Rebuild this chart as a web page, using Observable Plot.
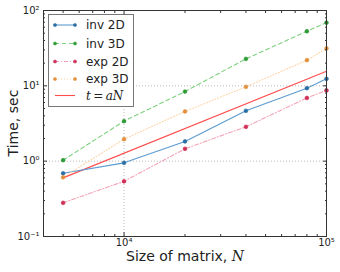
<!DOCTYPE html>
<html><head><meta charset="utf-8">
<script src="https://cdn.jsdelivr.net/npm/d3@7"></script>
<script src="https://cdn.jsdelivr.net/npm/@observablehq/plot@0.6"></script>
<style>body{margin:0;background:#fff}</style>
</head><body><div id="chart"></div>
<script>
const N = [5000, 10000, 20000, 40000, 80000, 100000];
const inv2D = [0.69, 0.95, 1.83, 4.66, 9.3, 12.4];
const inv3D = [1.03, 3.4, 8.4, 22.8, 53, 69];
const exp2D = [0.28, 0.54, 1.46, 2.86, 6.9, 8.7];
const exp3D = [0.61, 1.96, 4.57, 9.7, 21.9, 31.4];
const fitN = [5000, 100000];
const fitT = [0.6, 15.6];
const seriesNames = ["inv 2D", "inv 3D", "exp 2D", "exp 3D"];
const lineColors = ["#5b9bd0", "#7fd07f", "#f4a3b6", "#ffd3a6"];
const markColors = ["#2b6ea3", "#2e9a35", "#cf2e55", "#e3903c"];
const dashes = [null, "4,3", "4,2,1,2", "1,2"];
const fitColor = "#ff4d4d";
const xMajor = [1e4, 1e5];
const yMajor = [0.1, 1, 10, 100];
const xMinor = [5000, 6000, 7000, 8000, 9000, 20000, 30000, 40000, 50000, 60000, 70000, 80000, 90000];
const yMinor = [0.2,0.3,0.4,0.5,0.6,0.7,0.8,0.9,2,3,4,5,6,7,8,9,20,30,40,50,60,70,80,90];

const values = [inv2D, inv3D, exp2D, exp3D];
const rows = [];
values.forEach((arr, s) => arr.forEach((t, i) => rows.push({series: seriesNames[s], s, N: N[i], t})));
const fitRows = fitN.map((n, i) => ({N: n, t: fitT[i]}));

const sup = {"-": "\u207B", "0": "\u2070", "1": "\u00B9", "2": "\u00B2", "4": "\u2074", "5": "\u2075"};
const fmt = d => "10" + String(Math.round(Math.log10(d))).split("").map(c => sup[c]).join("");

const empty = () => "";
const marks = [
  Plot.gridY([1, 10], {stroke: "#bbb", strokeOpacity: 1, strokeDasharray: "1,2"}),
  Plot.gridX([1e4], {stroke: "#bbb", strokeOpacity: 1, strokeDasharray: "1,2"}),
  Plot.line(fitRows, {x: "N", y: "t", stroke: fitColor, strokeWidth: 1.1})
];
seriesNames.forEach((name, s) => {
  const data = rows.filter(r => r.s === s);
  marks.push(Plot.line(data, {x: "N", y: "t", stroke: lineColors[s], strokeWidth: 1.1, strokeDasharray: dashes[s]}));
});
seriesNames.forEach((name, s) => {
  const data = rows.filter(r => r.s === s);
  marks.push(Plot.dot(data, {x: "N", y: "t", r: 1.9, fill: markColors[s], stroke: markColors[s], strokeWidth: 0.6}));
});
for (const anchor of ["left", "right"]) {
  marks.push(Plot.axisY(yMajor, {anchor, tickSize: -4, tickFormat: empty, label: null, stroke: "#333"}));
  marks.push(Plot.axisY(yMinor, {anchor, tickSize: -2, tickFormat: empty, label: null, stroke: "#333"}));
}
for (const anchor of ["bottom", "top"]) {
  marks.push(Plot.axisX(xMajor, {anchor, tickSize: -4, tickFormat: empty, label: null, stroke: "#333"}));
  marks.push(Plot.axisX(xMinor, {anchor, tickSize: -2, tickFormat: empty, label: null, stroke: "#333"}));
}
marks.push(Plot.text(yMajor, {y: d => d, text: fmt, frameAnchor: "left", textAnchor: "end", dx: -4, fontSize: 10, fill: "#222"}));
marks.push(Plot.text(xMajor, {x: d => d, text: fmt, frameAnchor: "bottom", dy: 9, fontSize: 10, fill: "#222"}));
marks.push(Plot.frame({stroke: "#333", strokeWidth: 1}));

const chart = Plot.plot({
  width: 340, height: 272,
  marginLeft: 43, marginRight: 14, marginTop: 10, marginBottom: 36,
  style: {fontFamily: "DejaVu Sans", background: "#fff", overflow: "visible"},
  x: {type: "log", domain: [4000, 1e5], axis: null},
  y: {type: "log", domain: [0.1, 100], axis: null},
  marks
});
document.getElementById("chart").appendChild(chart);

const svg = d3.select(chart);
// axis titles
const xt = svg.append("text").attr("x", 185).attr("y", 261).attr("text-anchor", "middle")
  .attr("font-family", "DejaVu Sans").attr("font-size", 14).attr("fill", "#222");
xt.append("tspan").text("Size of matrix, ");
xt.append("tspan").attr("font-family", "DejaVu Serif").attr("font-style", "italic").text("N");
svg.append("text").attr("transform", "translate(18,123) rotate(-90)").attr("text-anchor", "middle")
  .attr("font-family", "DejaVu Sans").attr("font-size", 14).attr("fill", "#222").text("Time, sec");

// legend
const lg = svg.append("g").attr("transform", "translate(48,14)");
lg.append("rect").attr("x", 0.5).attr("y", 0.5).attr("width", 85).attr("height", 92)
  .attr("fill", "#fff").attr("stroke", "#777").attr("stroke-width", 1);
const rowY = [11, 29.5, 47.5, 65, 81.5];
seriesNames.forEach((name, s) => {
  const g = lg.append("g").attr("transform", `translate(0,${rowY[s]})`);
  g.append("line").attr("x1", 7).attr("x2", 27).attr("stroke", lineColors[s]).attr("stroke-width", 1.1)
    .attr("stroke-dasharray", dashes[s]);
  [7, 27].forEach(cx => g.append("circle").attr("cx", cx).attr("r", 1.6).attr("fill", markColors[s])
    .attr("stroke", markColors[s]).attr("stroke-width", 0.5));
  g.append("text").attr("x", 38).attr("dy", "0.35em").attr("text-anchor", "start")
    .attr("font-family", "DejaVu Sans").attr("font-size", 12).attr("fill", "#222").text(name);
});
const gf = lg.append("g").attr("transform", `translate(0,${rowY[4]})`);
gf.append("line").attr("x1", 7).attr("x2", 27).attr("stroke", fitColor).attr("stroke-width", 1.1);
const ft = gf.append("text").attr("x", 38).attr("dy", "0.35em").attr("text-anchor", "start")
  .attr("font-family", "DejaVu Serif").attr("font-size", 12).attr("fill", "#222");
ft.append("tspan").attr("font-style", "italic").text("t");
ft.append("tspan").text("\u2009=\u2009");
ft.append("tspan").attr("font-style", "italic").text("aN");
</script></body></html>
